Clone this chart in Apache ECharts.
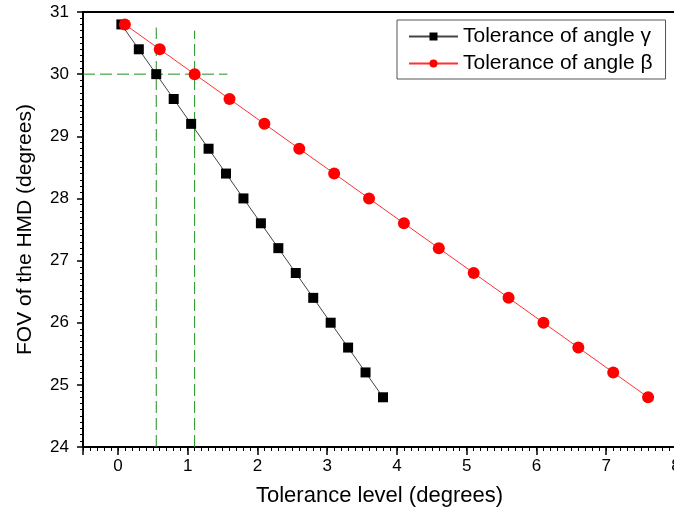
<!DOCTYPE html>
<html>
<head>
<meta charset="utf-8">
<script src="https://cdn.jsdelivr.net/npm/echarts@6/dist/echarts.min.js"></script>
<style>
  html, body { margin: 0; padding: 0; background: #fff; }
  #chart { width: 674px; height: 512px; }
</style>
</head>
<body>
<div id="chart"></div>
<script>
// tolerance of angle gamma (black squares)
const gammaX = [0.05, 0.3, 0.55, 0.8, 1.05, 1.3, 1.55, 1.8, 2.05, 2.3, 2.55, 2.8, 3.05, 3.3, 3.55, 3.8];
const gammaY = [30.8, 30.4, 30.0, 29.6, 29.2, 28.8, 28.4, 28.0, 27.6, 27.2, 26.8, 26.4, 26.0, 25.6, 25.2, 24.8];
// tolerance of angle beta (red circles)
const betaX = [0.1, 0.6, 1.1, 1.6, 2.1, 2.6, 3.1, 3.6, 4.1, 4.6, 5.1, 5.6, 6.1, 6.6, 7.1, 7.6];
const betaY = [30.8, 30.4, 30.0, 29.6, 29.2, 28.8, 28.4, 28.0, 27.6, 27.2, 26.8, 26.4, 26.0, 25.6, 25.2, 24.8];
// green dashed guide lines
const guideH = [[-0.5, 30], [1.57, 30]];
const guideV1 = [[0.55, 24], [0.55, 30.75]];
const guideV2 = [[1.1, 24], [1.1, 30.7]];

const xMin = -0.5, xMax = 8;
const yMin = 24, yMax = 31;

const font = 'Liberation Sans, Arial, sans-serif';
const green = '#1f8f1f';

const chart = echarts.init(document.getElementById('chart'));

const pair = (xs, ys) => xs.map((x, i) => [x, ys[i]]);
const guide = (data) => ({
  type: 'line', data: data, symbol: 'none', silent: true, z: 1,
  lineStyle: { color: green, width: 1, type: [12, 5] }
});

const gridBox = { left: 83, top: 12, width: 593, height: 435, outerBoundsMode: 'none', containLabel: false };

chart.setOption({
  animation: false,
  backgroundColor: '#fff',
  textStyle: { fontFamily: font },
  grid: [Object.assign({}, gridBox), Object.assign({}, gridBox)],
  xAxis: [
    {
      type: 'value', gridIndex: 0, min: xMin, max: xMax, splitNumber: 9,
      name: 'Tolerance level (degrees)', nameLocation: 'middle', nameGap: 38,
      nameTextStyle: { fontSize: 22, color: '#000', fontFamily: font },
      axisLine: { onZero: false, lineStyle: { color: '#000', width: 2 } },
      axisTick: { length: 8, lineStyle: { color: '#000', width: 1.5 } },
      axisLabel: {
        fontSize: 17, color: '#000', margin: 11, fontFamily: font,
        formatter: v => Number.isInteger(v) ? String(Math.abs(v) < 1e-9 ? 0 : v) : ''
      },
      splitLine: { show: false }
    },
    {
      // minor ticks every 0.1
      type: 'value', gridIndex: 1, position: 'bottom', min: xMin, max: xMax, interval: 0.1,
      axisLine: { show: false, onZero: false },
      axisTick: { length: 4, lineStyle: { color: '#000', width: 1 } },
      axisLabel: { show: false },
      splitLine: { show: false }
    },
    {
      // top frame
      type: 'value', gridIndex: 1, position: 'top', min: xMin, max: xMax,
      axisLine: { onZero: false, lineStyle: { color: '#000', width: 2 } },
      axisTick: { show: false }, axisLabel: { show: false }, splitLine: { show: false }
    }
  ],
  yAxis: [
    {
      type: 'value', gridIndex: 0, min: yMin, max: yMax, interval: 1,
      name: 'FOV of the HMD (degrees)', nameLocation: 'middle', nameGap: 47,
      nameTextStyle: { fontSize: 21, color: '#000', fontFamily: font },
      axisLine: { show: true, onZero: false, lineStyle: { color: '#000', width: 2 } },
      axisTick: { length: 6, lineStyle: { color: '#000', width: 1.5 } },
      minorTick: { show: true, splitNumber: 10, length: 3, lineStyle: { color: '#000', width: 1 } },
      axisLabel: { fontSize: 17, color: '#000', margin: 14, fontFamily: font },
      splitLine: { show: false }
    },
    {
      type: 'value', gridIndex: 1, min: yMin, max: yMax, show: false,
      axisLine: { onZero: false }
    }
  ],
  legend: {
    left: 397, top: 20, orient: 'vertical',
    data: ['Tolerance of angle \u03b3', 'Tolerance of angle \u03b2'],
    itemWidth: 49, itemHeight: 10, itemGap: 6,
    padding: [6, 13, 5, 11],
    borderColor: '#555', borderWidth: 1,
    textStyle: { fontSize: 21, color: '#000', fontFamily: font }
  },
  series: [
    guide(guideH), guide(guideV1), guide(guideV2),
    {
      name: 'Tolerance of angle \u03b3', type: 'line', data: pair(gammaX, gammaY),
      symbol: 'rect', symbolSize: 10, z: 3,
      itemStyle: { color: '#000' },
      lineStyle: { color: '#444', width: 1 }
    },
    {
      name: 'Tolerance of angle \u03b2', type: 'line', data: pair(betaX, betaY),
      symbol: 'circle', symbolSize: 12, z: 3,
      itemStyle: { color: '#ff0000' },
      lineStyle: { color: '#ff3030', width: 1 }
    }
  ]
});
</script>
</body>
</html>
